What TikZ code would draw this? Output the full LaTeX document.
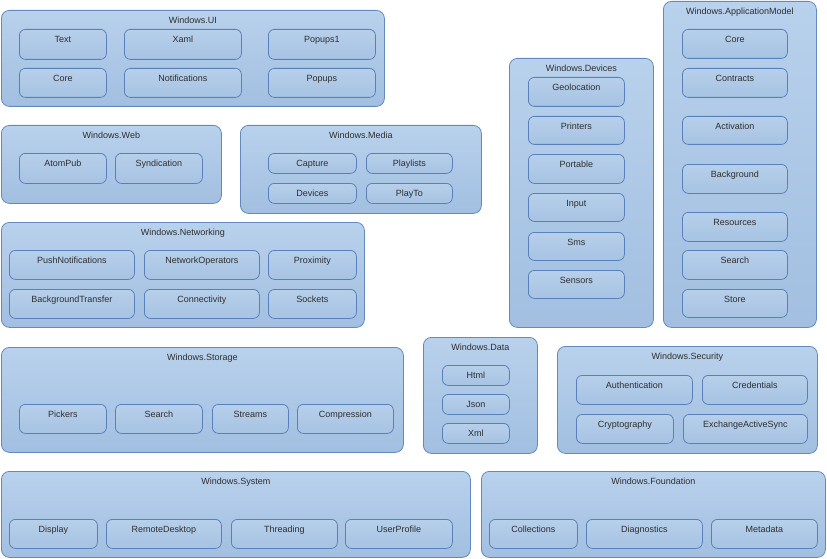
\documentclass[tikz,border=0pt]{standalone}
\usepackage{fontspec}
\setmainfont{Liberation Sans}
\definecolor{txt}{HTML}{2E2E2E}
\definecolor{gtop}{HTML}{B8D1EC}
\definecolor{gbot}{HTML}{A2BFE1}
\definecolor{gline}{HTML}{6489BF}
\definecolor{itop}{HTML}{B6CFEA}
\definecolor{ibot}{HTML}{A7C3E3}
\definecolor{iline}{HTML}{5881BB}
\tikzset{
  grp/.style={draw=gline, line width=0.8pt, rounded corners=8pt, top color=gtop, bottom color=gbot, inner sep=0pt, anchor=north west},
  itm/.style={draw=iline, line width=0.8pt, rounded corners=6pt, top color=itop, bottom color=ibot, inner sep=0pt, anchor=north west},
  ttl/.style={text=txt, font=\fontsize{9}{10}\selectfont, inner sep=0pt, anchor=base},
  lbl/.style={text=txt, font=\fontsize{9}{10}\selectfont, inner sep=0pt, anchor=base}
}
\newcommand\Grp[6]{%
  \node[grp, minimum width=#4pt-#2pt, minimum height=#5pt-#3pt] (#1) at (#2pt,-#3pt) {};
  \node[ttl] (#1t) at ([yshift=-13.8pt]#1.north) {#6};}
\newcommand\Itm[6]{%
  \node[itm, minimum width=#4pt, minimum height=#5pt] (#1) at (#2pt,-#3pt) {};
  \node[lbl] (#1t) at ([yshift=-13.8pt]#1.north) {#6};}
\begin{document}
\begin{tikzpicture}
\useasboundingbox (0,0) rectangle (827pt,-559pt);
% Windows.UI
\Grp{ui}{1}{10}{384}{106}{Windows.UI}
\Itm{uitext}{19}{29}{87}{30}{Text}
\Itm{uixaml}{124}{29}{117}{30}{Xaml}
\Itm{uipop1}{268}{29}{107}{30}{Popups1}
\Itm{uicore}{19}{68}{87}{29}{Core}
\Itm{uinotif}{124}{68}{117}{29}{Notifications}
\Itm{uipop}{268}{68}{107}{29}{Popups}
% Windows.Web
\Grp{web}{1}{125}{221}{203}{Windows.Web}
\Itm{webatom}{19}{153}{87}{30}{AtomPub}
\Itm{websynd}{115}{153}{87}{30}{Syndication}
% Windows.Media
\Grp{media}{240}{125}{481}{213}{Windows.Media}
\Itm{medcap}{268}{153}{88}{20}{Capture}
\Itm{medplay}{366}{153}{86}{20}{Playlists}
\Itm{meddev}{268}{183}{88}{20}{Devices}
\Itm{medto}{366}{183}{86}{20}{PlayTo}
% Windows.Networking
\Grp{net}{1}{222}{364}{327}{Windows.Networking}
\Itm{netpush}{9}{250}{125}{29}{PushNotifications}
\Itm{netop}{144}{250}{115}{29}{NetworkOperators}
\Itm{netprox}{268}{250}{88}{29}{Proximity}
\Itm{netbg}{9}{289}{125}{29}{BackgroundTransfer}
\Itm{netconn}{144}{289}{115}{29}{Connectivity}
\Itm{netsock}{268}{289}{88}{29}{Sockets}
% Windows.Storage
\Grp{sto}{1}{347}{403}{452}{Windows.Storage}
\Itm{stopick}{19}{404}{87}{29}{Pickers}
\Itm{stosearch}{115}{404}{87}{29}{Search}
\Itm{stostream}{212}{404}{76}{29}{Streams}
\Itm{stocomp}{297}{404}{96}{29}{Compression}
% Windows.Data
\Grp{data}{423}{337}{537}{453}{Windows.Data}
\Itm{datahtml}{442}{365}{67}{20}{Html}
\Itm{datajson}{442}{394}{67}{20}{Json}
\Itm{dataxml}{442}{423}{67}{20}{Xml}
% Windows.Security
\Grp{sec}{557}{346}{817}{453}{Windows.Security}
\Itm{secauth}{576}{375}{116}{29}{Authentication}
\Itm{seccred}{702}{375}{105}{29}{Credentials}
\Itm{seccrypt}{576}{414}{97}{29}{Cryptography}
\Itm{secex}{683}{414}{124}{29}{ExchangeActiveSync}
% Windows.System
\Grp{sys}{1}{471}{470}{557}{Windows.System}
\Itm{sysdisp}{9}{519}{88}{29}{Display}
\Itm{sysrem}{106}{519}{115}{29}{RemoteDesktop}
\Itm{systhr}{231}{519}{106}{29}{Threading}
\Itm{sysuser}{345}{519}{107}{29}{UserProfile}
% Windows.Foundation
\Grp{fnd}{481}{471}{825}{557}{Windows.Foundation}
\Itm{fndcoll}{489}{519}{88}{29}{Collections}
\Itm{fnddiag}{586}{519}{116}{29}{Diagnostics}
\Itm{fndmeta}{711}{519}{106}{29}{Metadata}
% Windows.Devices
\Grp{dev}{509}{58}{653}{327}{Windows.Devices}
\Itm{devgeo}{528}{77}{96}{29}{Geolocation}
\Itm{devprint}{528}{116}{96}{28}{Printers}
\Itm{devport}{528}{154}{96}{29}{Portable}
\Itm{devinput}{528}{193}{96}{28}{Input}
\Itm{devsms}{528}{232}{96}{28}{Sms}
\Itm{devsens}{528}{270}{96}{28}{Sensors}
% Windows.ApplicationModel
\Grp{app}{663}{1}{816}{327}{Windows.ApplicationModel}
\Itm{appcore}{682}{29}{105}{29}{Core}
\Itm{appcont}{682}{68}{105}{29}{Contracts}
\Itm{appact}{682}{116}{105}{28}{Activation}
\Itm{appbg}{682}{164}{105}{29}{Background}
\Itm{appres}{682}{212}{105}{29}{Resources}
\Itm{appsearch}{682}{250}{105}{29}{Search}
\Itm{appstore}{682}{289}{105}{28}{Store}
\end{tikzpicture}
\end{document}
